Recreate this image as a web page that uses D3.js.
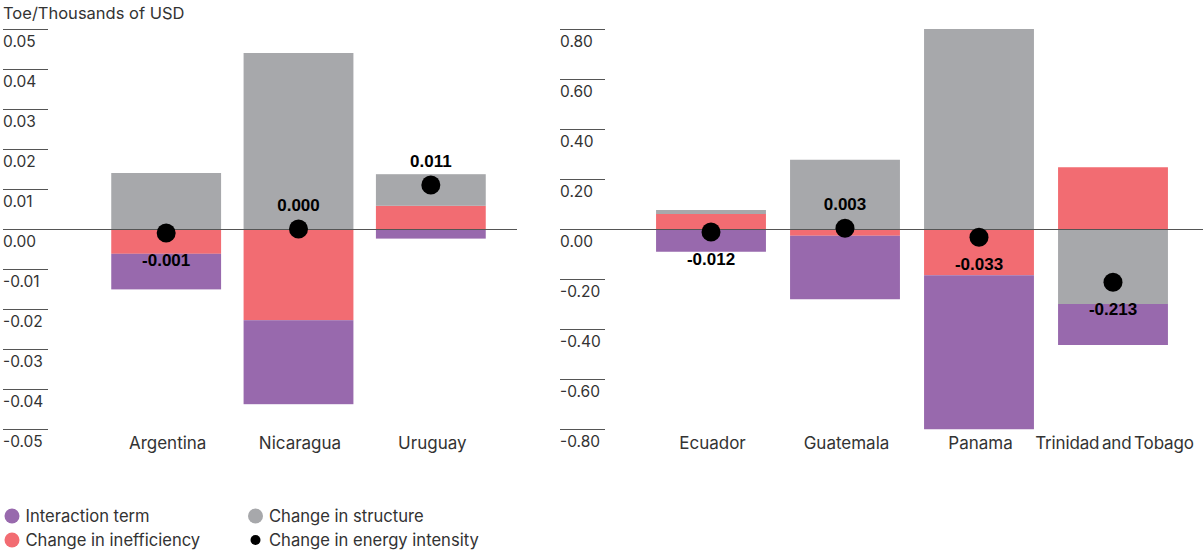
<!DOCTYPE html>
<html>
<head>
<meta charset="utf-8">
<script src="https://cdn.jsdelivr.net/npm/d3@7"></script>
<style>
  html, body { margin: 0; padding: 0; background: #fff; }
  svg { display: block; }
  text { font-family: "Inter", "Roboto", sans-serif; fill: #333; }
  .val { font-family: "Liberation Sans", Arial, sans-serif; font-weight: bold; fill: #000; }
</style>
</head>
<body>
<svg id="chart" width="1203" height="552"></svg>
<script>
// ---- Data ----
const seriesKeys = ['inefficiency', 'structure', 'interaction'];

const leftCategories = ['Argentina', 'Nicaragua', 'Uruguay'];
const leftInteraction = [-0.0089, -0.0210, -0.0024];
const leftInefficiency = [-0.0062, -0.0228, 0.0058];
const leftStructure = [0.0140, 0.0440, 0.0079];
const leftIntensity = [-0.001, 0.000, 0.011];
const leftTicks = [0.05, 0.04, 0.03, 0.02, 0.01, 0.00, -0.01, -0.02, -0.03, -0.04, -0.05];

const rightCategories = ['Ecuador', 'Guatemala', 'Panama', 'Trinidad and Tobago'];
const rightInteraction = [-0.091, -0.254, -0.616, -0.164];
const rightInefficiency = [0.060, -0.027, -0.185, 0.247];
const rightStructure = [0.016, 0.277, 0.800, -0.300];
const rightIntensity = [-0.012, 0.003, -0.033, -0.213];
const rightTicks = [0.80, 0.60, 0.40, 0.20, 0.00, -0.20, -0.40, -0.60, -0.80];

const yTitle = 'Toe/Thousands of USD';
const legendLabels = ['Interaction term', 'Change in inefficiency', 'Change in structure', 'Change in energy intensity'];

const colors = {
  interaction: '#9869ad',
  inefficiency: '#f26c72',
  structure: '#a7a8ab',
  intensity: '#000000'
};

const svg = d3.select('#chart');
const hy = s => s.replace('\u2212', '-');

function panel(cfg) {
  const g = svg.append('g');
  const rows = cfg.categories.map((c, i) => ({
    category: c,
    interaction: cfg.interaction[i],
    inefficiency: cfg.inefficiency[i],
    structure: cfg.structure[i],
    intensity: cfg.intensity[i]
  }));
  const y = d3.scaleLinear().domain(cfg.domain).range([429, 29]);
  const x = d3.scaleBand().domain(cfg.categories).range(cfg.xRange)
    .paddingInner(cfg.padIn).paddingOuter(cfg.padOut);
  const cx = c => x(c) + x.bandwidth() / 2;

  // ticks
  const axisG = g.append('g');
  cfg.ticks.forEach(t => {
    const yy = Math.round(y(t)) + 0.5;
    axisG.append('line')
      .attr('x1', cfg.axisX).attr('x2', cfg.axisX + 45)
      .attr('y1', yy).attr('y2', yy)
      .attr('stroke', '#555').attr('stroke-width', 1);
    axisG.append('text')
      .attr('x', cfg.axisX).attr('y', y(t) + 18)
      .attr('font-size', 15.5)
      .text(hy(d3.format('.2f')(t)));
  });

  const stack = d3.stack().keys(seriesKeys).offset(d3.stackOffsetDiverging);
  const stacked = stack(rows);

  g.append('g').selectAll('g').data(stacked).join('g')
    .attr('fill', d => colors[d.key])
    .selectAll('rect').data(d => d).join('rect')
    .attr('x', d => x(d.data.category))
    .attr('width', x.bandwidth())
    .attr('y', d => y(Math.max(d[0], d[1])))
    .attr('height', d => Math.abs(y(d[0]) - y(d[1])));

  // zero line
  g.append('line')
    .attr('x1', cfg.axisX).attr('x2', cfg.zeroEnd)
    .attr('y1', Math.round(y(0)) + 0.5).attr('y2', Math.round(y(0)) + 0.5)
    .attr('stroke', '#555').attr('stroke-width', 1.2);

  // dots
  g.append('g').selectAll('circle').data(rows).join('circle')
    .attr('cx', d => cx(d.category))
    .attr('cy', d => y(d.intensity))
    .attr('r', 9.5)
    .attr('fill', colors.intensity);

  g.append('g').selectAll('text').data(rows).join('text')
    .attr('class', 'val')
    .attr('x', d => cx(d.category))
    .attr('y', d => y(d.intensity) + (d.intensity >= 0 ? -18 : 33))
    .attr('text-anchor', 'middle')
    .attr('font-size', 17)
    .text(d => hy(d3.format('.3f')(d.intensity)));

  // category labels
  g.append('g').selectAll('text').data(cfg.categories).join('text')
    .attr('x', d => cx(d) + 1.5)
    .attr('y', 449)
    .attr('text-anchor', 'middle')
    .attr('font-size', 17)
    .attr('word-spacing', d => d.split(' ').length > 2 ? -2 : 0)
    .attr('letter-spacing', d => d.split(' ').length > 2 ? -0.15 : 0)
    .text(d => d);
}

panel({
  categories: leftCategories,
  interaction: leftInteraction,
  inefficiency: leftInefficiency,
  structure: leftStructure,
  intensity: leftIntensity,
  ticks: leftTicks,
  domain: [-0.05, 0.05],
  xRange: [100, 497],
  padIn: 0.17, padOut: 0.085,
  axisX: 3, zeroEnd: 517
});

panel({
  categories: rightCategories,
  interaction: rightInteraction,
  inefficiency: rightInefficiency,
  structure: rightStructure,
  intensity: rightIntensity,
  ticks: rightTicks,
  domain: [-0.8, 0.8],
  xRange: [644, 1180],
  padIn: 0.18, padOut: 0.09,
  axisX: 560, zeroEnd: 1203
});

// y title
svg.append('text').attr('x', 3).attr('y', 19).attr('font-size', 16.5)
  .text(yTitle);

// legend
const legendItems = [
  { key: 'interaction', label: legendLabels[0], col: 0, row: 0, r: 7.5 },
  { key: 'inefficiency', label: legendLabels[1], col: 0, row: 1, r: 7.5 },
  { key: 'structure', label: legendLabels[2], col: 1, row: 0, r: 7.5 },
  { key: 'intensity', label: legendLabels[3], col: 1, row: 1, r: 5 }
];
const lg = svg.append('g');
const colX = [12, 255.5];
legendItems.forEach(it => {
  const cy = 516 + it.row * 24;
  lg.append('circle').attr('cx', colX[it.col]).attr('cy', cy).attr('r', it.r).attr('fill', colors[it.key]);
  lg.append('text').attr('x', colX[it.col] + 13.5).attr('y', cy + 6).attr('font-size', 16.6).text(it.label);
});
</script>
</body>
</html>
